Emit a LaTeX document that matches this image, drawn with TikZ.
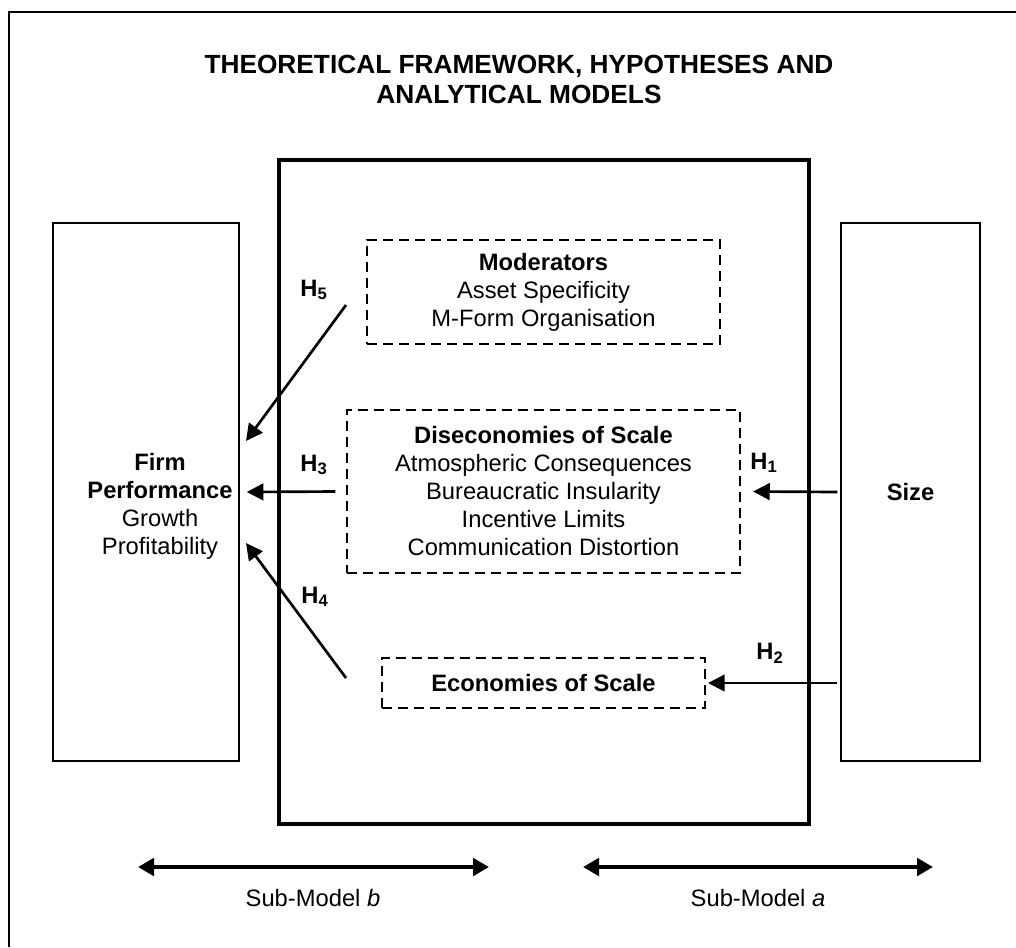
\documentclass[tikz,border=0pt]{standalone}
\usepackage{fontspec}
\setmainfont{Liberation Sans}
\usepackage{tikz}
\usetikzlibrary{arrows.meta,arrows}
\usetikzlibrary{positioning}

\begin{document}
\begin{tikzpicture}[x=0.75pt,y=0.75pt,yscale=-1,
    every node/.style={font=\fontsize{17.8}{21}\selectfont},
    plainbox/.style={draw, line width=1.6pt, inner sep=0pt},
    dashbox/.style={draw, line width=1.6pt, dash pattern=on 7.5pt off 4.5pt, inner sep=0pt},
    harrow/.style={line width=2pt, -{Triangle[length=12.5pt,width=12.5pt]}},
    spanarrow/.style={line width=3.4pt, {Triangle[length=12pt,width=13pt]}-{Triangle[length=12pt,width=13pt]}},
    hlabel/.style={font=\fontsize{17.8}{21}\selectfont\bfseries}
  ]
  \useasboundingbox (0,0) rectangle (1016,947);

  % frame, cut at the page edge
  \draw [line width=1.9pt] (9,947) -- (9,12) -- (1016,12);

  \node [font=\fontsize{19.7}{22.5}\selectfont\bfseries, align=center] (title) at (519,79) {THEORETICAL FRAMEWORK, HYPOTHESES AND\\ANALYTICAL MODELS};

  % boxes
  \node [plainbox, line width=2.6pt, minimum width=397.5pt, minimum height=498pt] (model) at (544,492) {};
  \node [plainbox, minimum width=139.5pt, minimum height=403.5pt] (perf) at (146,492) {};
  \node [align=center] (perftxt) at (160,506) {\textbf{Firm}\\\textbf{Performance}\\Growth\\Profitability};
  \node [plainbox, minimum width=104.25pt, minimum height=403.5pt] (size) at (910.5,492) {\textbf{Size}};

  \node [dashbox, minimum width=264.75pt, minimum height=78pt, align=center] (moder) at (543.5,292) {\textbf{Moderators}\\Asset Specificity\\M-Form Organisation};
  \node [dashbox, minimum width=294.75pt, minimum height=122.25pt, align=center] (disec) at (543.5,491.5) {\textbf{Diseconomies of Scale}\\Atmospheric Consequences\\Bureaucratic Insularity\\Incentive Limits\\Communication Distortion};
  \node [dashbox, minimum width=242.25pt, minimum height=37.5pt] (econ) at (543.5,683) {\textbf{Economies of Scale}};

  % hypotheses
  \coordinate (h5tail) at (346,305);
  \coordinate (h5tip) at (246,441);
  \coordinate (h4tail) at (346,678);
  \coordinate (h4tip) at (246,543);

  \draw [harrow] ([xshift=-2pt]size.west) -- ([xshift=9pt]disec.east);
  \draw [harrow] ([xshift=-2pt]size.west |- econ.east) -- ([xshift=1.5pt]econ.east);
  \draw [harrow] ([xshift=-8pt]disec.west) -- ([xshift=5pt]perf.east);
  \draw [harrow] (h5tail) -- (h5tip);
  \draw [harrow] (h4tail) -- (h4tip);

  \node [hlabel] (h5) at (314,290) {H\textsubscript{5}};
  \node [hlabel] (h3) at (314,465) {H\textsubscript{3}};
  \node [hlabel] (h4) at (315,597) {H\textsubscript{4}};
  \node [hlabel] (h1) at (764,463) {H\textsubscript{1}};
  \node [hlabel] (h2) at (770,653) {H\textsubscript{2}};

  % sub-models
  \coordinate (subbL) at (138,867);
  \coordinate (subbR) at (489,867);
  \coordinate (subaL) at (583,867);
  \coordinate (subaR) at (933,867);
  \draw [spanarrow] (subbL) -- (subbR);
  \draw [spanarrow] (subaL) -- (subaR);

  \node (subb) at (313,898) {Sub-Model \textit{b}};
  \node (suba) at (758,898) {Sub-Model \textit{a}};

\end{tikzpicture}
\end{document}
